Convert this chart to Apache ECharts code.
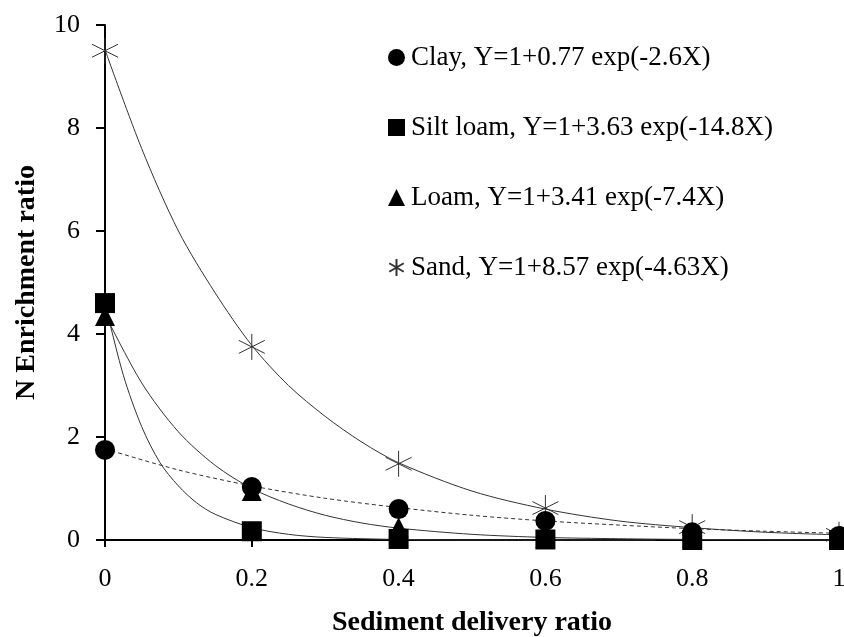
<!DOCTYPE html>
<html><head><meta charset="utf-8">
<script src="https://cdn.jsdelivr.net/npm/echarts@6/dist/echarts.min.js"></script>
<style>html,body{margin:0;padding:0;background:#fff}#c{width:844px;height:637px}</style>
</head><body><div id="c"></div>
<script>
// Observed points (x = sediment delivery ratio)
const xPoints = [0, 0.2, 0.4, 0.6, 0.8, 1.0];
const clayPts = [1.75, 1.03, 0.60, 0.37, 0.15, 0.08];
const siltPts = [4.60, 0.17, 0.02, 0.01, 0.00, 0.00];
const loamPts = [4.35, 0.95, 0.25, 0.05, 0.05, 0.05];
const sandPts = [9.50, 3.75, 1.48, 0.62, 0.25, 0.10];

// Fitted curves, values
const clayCurveX = [0, 0.1, 0.2, 0.3, 0.4, 0.5, 0.6, 0.7, 0.8, 0.9, 1.0];
const clayCurveY = [1.77, 1.36, 1.05, 0.81, 0.63, 0.48, 0.37, 0.29, 0.22, 0.17, 0.13];
const siltCurveX = [0, 0.025, 0.05, 0.075, 0.1, 0.125, 0.15, 0.2, 0.25, 0.3, 0.4, 0.5, 0.75];
const siltCurveY = [4.60, 3.20, 2.20, 1.50, 1.05, 0.72, 0.50, 0.24, 0.11, 0.05, 0.01, 0.0, 0.0];
const loamCurveX = [0, 0.05, 0.1, 0.15, 0.2, 0.25, 0.3, 0.35, 0.4, 0.5, 0.6, 0.7, 0.8, 0.9, 1.0];
const loamCurveY = [4.38, 3.05, 2.10, 1.45, 1.00, 0.70, 0.48, 0.33, 0.23, 0.11, 0.05, 0.025, 0.01, 0.005, 0.0];
const sandCurveX = [0, 0.05, 0.1, 0.15, 0.2, 0.25, 0.3, 0.35, 0.4, 0.5, 0.6, 0.7, 0.8, 0.9, 1.0];
const sandCurveY = [9.52, 7.60, 6.00, 4.80, 3.78, 3.00, 2.40, 1.90, 1.50, 0.95, 0.60, 0.37, 0.24, 0.15, 0.10];

const seriesNames = [
  'Clay, Y=1+0.77 exp(-2.6X)',
  'Silt loam, Y=1+3.63 exp(-14.8X)',
  'Loam, Y=1+3.41 exp(-7.4X)',
  'Sand, Y=1+8.57 exp(-4.63X)'
];
const xTicks = [0, 0.2, 0.4, 0.6, 0.8, 1];
const yTicks = [0, 2, 4, 6, 8, 10];

const FONT = 'Liberation Serif';
const starPath = 'path://M10,0L10,20M1.5,5L18.5,15M1.5,15L18.5,5';
const zip = (xs, ys) => xs.map((x, i) => [x, ys[i]]);

const curve = (xs, ys, dashed) => ({
  type: 'line', data: zip(xs, ys), showSymbol: false, symbol: 'none', smooth: 0.3,
  lineStyle: {color: '#333', width: 1, type: dashed ? [4, 3] : 'solid'},
  silent: true, z: 1, clip: false
});
const pts = (name, ys, symbol, size, star) => ({
  name, type: 'scatter', data: zip(xPoints, ys), symbol, symbolSize: size, clip: false, z: 5,
  itemStyle: star ? {color: 'rgba(0,0,0,0)', borderColor: '#333', borderWidth: 1, opacity: 1}
                  : {color: '#000', opacity: 1}
});

const chart = echarts.init(document.getElementById('c'));
chart.setOption({
  animation: false,
  backgroundColor: '#fff',
  grid: {left: 105, top: 25, width: 734, height: 515, outerBoundsMode: 'none', containLabel: false},
  legend: {
    orient: 'vertical', left: 383, top: 39,
    data: seriesNames.map((n, i) => ({name: n, icon: ['circle', 'rect', 'triangle', starPath][i]})),
    itemWidth: 17, itemHeight: 17, itemGap: 43,
    textStyle: {fontFamily: FONT, fontSize: 27, color: '#000', lineHeight: 27, padding: [0, 0, 0, 1]},
    selectedMode: false
  },
  xAxis: {
    type: 'value', min: 0, max: 1, interval: 0.2,
    name: 'Sediment delivery ratio', nameLocation: 'middle', nameGap: 69,
    nameTextStyle: {fontFamily: FONT, fontSize: 28, fontWeight: 'bold', color: '#000'},
    axisLine: {show: true, lineStyle: {color: '#000', width: 2}},
    axisTick: {show: true, length: 7, lineStyle: {color: '#000', width: 2}},
    axisLabel: {fontFamily: FONT, fontSize: 26, color: '#000', margin: 26,
      formatter: v => String(xTicks.find(t => Math.abs(t - v) < 1e-9) ?? v)},
    splitLine: {show: false}
  },
  yAxis: {
    type: 'value', min: 0, max: 10, interval: 2,
    name: 'N Enrichment ratio', nameLocation: 'middle', nameGap: 64, nameRotate: 90,
    nameTextStyle: {fontFamily: FONT, fontSize: 28, fontWeight: 'bold', color: '#000'},
    axisLine: {show: true, lineStyle: {color: '#000', width: 2}},
    axisTick: {show: true, length: 9, lineStyle: {color: '#000', width: 2}},
    axisLabel: {fontFamily: FONT, fontSize: 26, color: '#000', margin: 25,
      formatter: v => String(yTicks.find(t => t === v) ?? v)},
    splitLine: {show: false}
  },
  series: [
    curve(sandCurveX, sandCurveY, false),
    curve(loamCurveX, loamCurveY, false),
    curve(siltCurveX, siltCurveY, false),
    curve(clayCurveX, clayCurveY, true),
    pts(seriesNames[3], sandPts, starPath, 26, true),
    pts(seriesNames[1], siltPts, 'rect', 20, false),
    pts(seriesNames[2], loamPts, 'triangle', 20, false),
    pts(seriesNames[0], clayPts, 'circle', 20, false)
  ]
});
</script></body></html>
